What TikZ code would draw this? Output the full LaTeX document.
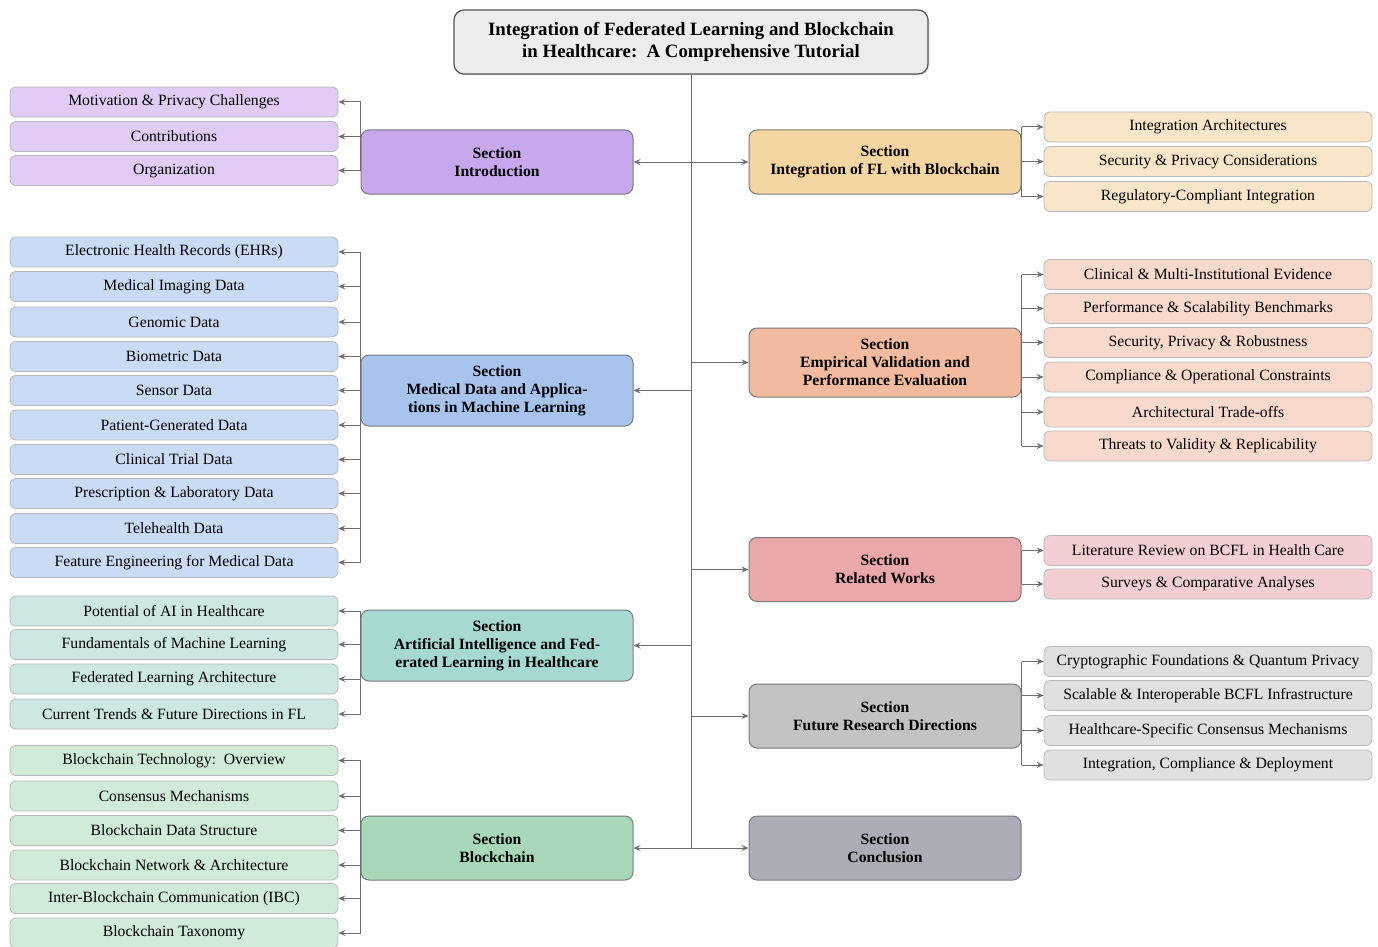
\documentclass[tikz,border=0pt]{standalone}
\usepackage{fontspec}
\setmainfont{Liberation Serif}
\usetikzlibrary{arrows.meta,shadows}

\definecolor{linegray}{HTML}{6E6E6E}
\definecolor{leafborder}{HTML}{B8B8B8}
\definecolor{secborder}{HTML}{7A7A7A}
\definecolor{titlefill}{HTML}{EDEDED}
\definecolor{titleborder}{HTML}{555555}
% section fills and matching sub-topic fills
\definecolor{introS}{HTML}{C8A8EC}\definecolor{introL}{HTML}{E0CCF4}
\definecolor{medS}{HTML}{A8C4EE}\definecolor{medL}{HTML}{CADBF5}
\definecolor{aiS}{HTML}{A6D9D2}\definecolor{aiL}{HTML}{CDE8E3}
\definecolor{bcS}{HTML}{A8D8B8}\definecolor{bcL}{HTML}{D1EBD9}
\definecolor{intS}{HTML}{F5D6A2}\definecolor{intL}{HTML}{F9E6CA}
\definecolor{empS}{HTML}{F2BA9E}\definecolor{empL}{HTML}{F8DACD}
\definecolor{relS}{HTML}{EBA8AA}\definecolor{relL}{HTML}{F3CFD3}
\definecolor{futS}{HTML}{C3C3C3}\definecolor{futL}{HTML}{E0E0E0}
\definecolor{conS}{HTML}{AAADB5}

\tikzset{
  tip/.tip={Stealth[length=7pt,width=6pt,inset=2.5pt]},
  trunkline/.style={draw=linegray, line width=1pt},
  conn/.style={draw=linegray, line width=1pt, -tip},
  connboth/.style={draw=linegray, line width=1pt, tip-tip},
  leaf/.style={draw=leafborder, line width=0.8pt, rounded corners=6pt,
    minimum width=328pt, minimum height=30pt, inner sep=0pt,
    font=\fontsize{15.7}{18}\selectfont},
  sect/.style={draw=secborder, line width=1pt, rounded corners=8pt,
    minimum width=272pt, minimum height=64pt, inner sep=0pt, align=center,
    font=\bfseries\fontsize{15.7}{18}\selectfont},
  titlebox/.style={draw=titleborder, line width=1.2pt, rounded corners=10pt,
    fill=titlefill, minimum width=474pt, minimum height=64pt, align=center,
    font=\bfseries\fontsize{18.8}{22}\selectfont,
    drop shadow={opacity=0.25, shadow xshift=1.5pt, shadow yshift=-1.5pt}},
}

\begin{document}
\begin{tikzpicture}[x=1pt,y=-1pt]
\useasboundingbox (0,0) rectangle (1378,947);

% title
\node[titlebox] (title) at (691,42) {Integration of Federated Learning and Blockchain\\in Healthcare:\ \ A Comprehensive Tutorial};

% sections on the left
\node[sect, fill=introS] (intro) at (497,162) {Section\\Introduction};
\node[sect, fill=medS, minimum height=71pt] (med) at (497,390.5) {Section\\Medical Data and Applica-\\tions in Machine Learning};
\node[sect, fill=aiS, minimum height=71pt] (ai) at (497,645.5) {Section\\Artificial Intelligence and Fed-\\erated Learning in Healthcare};
\node[sect, fill=bcS] (bc) at (497,848) {Section\\Blockchain};

% sections on the right
\node[sect, fill=intS] (integ) at (885,162) {Section\\Integration of FL with Blockchain};
\node[sect, fill=empS, minimum height=69pt] (emp) at (885,362.5) {Section\\Empirical Validation and\\Performance Evaluation};
\node[sect, fill=relS] (rel) at (885,569.5) {Section\\Related Works};
\node[sect, fill=futS] (fut) at (885,716) {Section\\Future Research Directions};
\node[sect, fill=conS] (con) at (885,848) {Section\\Conclusion};

% introduction topics
\node[leaf, fill=introL] (i1) at (174,102) {Motivation \& Privacy Challenges};
\node[leaf, fill=introL] (i2) at (174,136.5) {Contributions};
\node[leaf, fill=introL] (i3) at (174,170.5) {Organization};

% medical data topics
\node[leaf, fill=medL] (m1) at (174,252) {Electronic Health Records (EHRs)};
\node[leaf, fill=medL] (m2) at (174,286.5) {Medical Imaging Data};
\node[leaf, fill=medL] (m3) at (174,322) {Genomic Data};
\node[leaf, fill=medL] (m4) at (174,356.5) {Biometric Data};
\node[leaf, fill=medL] (m5) at (174,390.5) {Sensor Data};
\node[leaf, fill=medL] (m6) at (174,425) {Patient-Generated Data};
\node[leaf, fill=medL] (m7) at (174,459.5) {Clinical Trial Data};
\node[leaf, fill=medL] (m8) at (174,493.5) {Prescription \& Laboratory Data};
\node[leaf, fill=medL] (m9) at (174,528.5) {Telehealth Data};
\node[leaf, fill=medL] (m10) at (174,562.5) {Feature Engineering for Medical Data};

% AI topics
\node[leaf, fill=aiL] (a1) at (174,611) {Potential of AI in Healthcare};
\node[leaf, fill=aiL] (a2) at (174,644.5) {Fundamentals of Machine Learning};
\node[leaf, fill=aiL] (a3) at (174,679) {Federated Learning Architecture};
\node[leaf, fill=aiL] (a4) at (174,714) {Current Trends \& Future Directions in FL};

% blockchain topics
\node[leaf, fill=bcL] (b1) at (174,760.5) {Blockchain Technology:\ \ Overview};
\node[leaf, fill=bcL] (b2) at (174,796) {Consensus Mechanisms};
\node[leaf, fill=bcL] (b3) at (174,830.5) {Blockchain Data Structure};
\node[leaf, fill=bcL] (b4) at (174,865) {Blockchain Network \& Architecture};
\node[leaf, fill=bcL] (b5) at (174,898.5) {Inter-Blockchain Communication (IBC)};
\node[leaf, fill=bcL] (b6) at (174,933) {Blockchain Taxonomy};

% integration topics
\node[leaf, fill=intL] (g1) at (1208,127) {Integration Architectures};
\node[leaf, fill=intL] (g2) at (1208,161.5) {Security \& Privacy Considerations};
\node[leaf, fill=intL] (g3) at (1208,196.5) {Regulatory-Compliant Integration};

% evaluation topics
\node[leaf, fill=empL] (e1) at (1208,274.5) {Clinical \& Multi-Institutional Evidence};
\node[leaf, fill=empL] (e2) at (1208,308.5) {Performance \& Scalability Benchmarks};
\node[leaf, fill=empL] (e3) at (1208,342.5) {Security, Privacy \& Robustness};
\node[leaf, fill=empL] (e4) at (1208,377) {Compliance \& Operational Constraints};
\node[leaf, fill=empL] (e5) at (1208,412) {Architectural Trade-offs};
\node[leaf, fill=empL] (e6) at (1208,446) {Threats to Validity \& Replicability};

% related works topics
\node[leaf, fill=relL] (r1) at (1208,550.5) {Literature Review on BCFL in Health Care};
\node[leaf, fill=relL] (r2) at (1208,584) {Surveys \& Comparative Analyses};

% future directions topics
\node[leaf, fill=futL] (f1) at (1208,661.5) {Cryptographic Foundations \& Quantum Privacy};
\node[leaf, fill=futL] (f2) at (1208,695.5) {Scalable \& Interoperable BCFL Infrastructure};
\node[leaf, fill=futL] (f3) at (1208,730.5) {Healthcare-Specific Consensus Mechanisms};
\node[leaf, fill=futL] (f4) at (1208,765) {Integration, Compliance \& Deployment};

% trunk and its branches
\draw[trunkline] (title.south) -- (title.south |- bc.east);
\draw[connboth] (intro.east) -- (integ.west);
\draw[connboth] (bc.east) -- (con.west);
\draw[conn] (title.south |- med.east) -- (med.east);
\draw[conn] (title.south |- ai.east) -- (ai.east);
\draw[conn] (title.south |- emp.west) -- (emp.west);
\draw[conn] (title.south |- rel.west) -- (rel.west);
\draw[conn] (title.south |- fut.west) -- (fut.west);

% left brackets
\draw[trunkline] (intro.west |- i1) -- (intro.west |- i3);
\foreach \c in {i1,i2,i3} \draw[conn] (intro.west |- \c) -- (\c.east);
\draw[trunkline] (med.west |- m1) -- (med.west |- m10);
\foreach \c in {m1,m2,m3,m4,m5,m6,m7,m8,m9,m10} \draw[conn] (med.west |- \c) -- (\c.east);
\draw[trunkline] (ai.west |- a1) -- (ai.west |- a4);
\foreach \c in {a1,a2,a3,a4} \draw[conn] (ai.west |- \c) -- (\c.east);
\draw[trunkline] (bc.west |- b1) -- (bc.west |- b6);
\foreach \c in {b1,b2,b3,b4,b5,b6} \draw[conn] (bc.west |- \c) -- (\c.east);

% right brackets
\draw[trunkline] (integ.east |- g1) -- (integ.east |- g3);
\foreach \c in {g1,g2,g3} \draw[conn] (integ.east |- \c) -- (\c.west);
\draw[trunkline] (emp.east |- e1) -- (emp.east |- e6);
\foreach \c in {e1,e2,e3,e4,e5,e6} \draw[conn] (emp.east |- \c) -- (\c.west);
\draw[trunkline] (rel.east |- r1) -- (rel.east |- r2);
\foreach \c in {r1,r2} \draw[conn] (rel.east |- \c) -- (\c.west);
\draw[trunkline] (fut.east |- f1) -- (fut.east |- f4);
\foreach \c in {f1,f2,f3,f4} \draw[conn] (fut.east |- \c) -- (\c.west);
\end{tikzpicture}
\end{document}
